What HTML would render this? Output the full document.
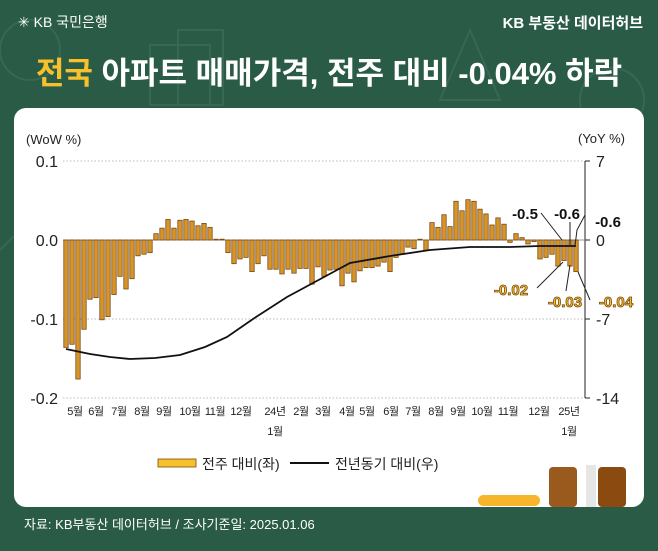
<!DOCTYPE html>
<html><head><meta charset="utf-8"><style>
body{margin:0;width:658px;height:546px;background:#295b47;overflow:hidden;font-family:"Liberation Sans","Noto Sans CJK KR",sans-serif;}
</style></head><body>
<svg width="658" height="546" xmlns="http://www.w3.org/2000/svg" font-family="Liberation Sans, Noto Sans CJK KR, sans-serif">
<rect width="658" height="546" fill="#295b47"/>
<g stroke="#3d6e5a" fill="none" stroke-width="2" opacity="0.7">
<rect x="150" y="45" width="60" height="60"/><rect x="178" y="30" width="45" height="75"/>
<circle cx="30" cy="50" r="30"/><path d="M470 30 L500 100 L440 100 Z"/>
<circle cx="612" cy="100" r="32"/><path d="M0 250 L20 230 L40 250"/>
</g>
<text x="18" y="27" font-size="14" fill="#fff">✳ KB 국민은행</text>
<text x="643" y="28" font-size="15" fill="#fff" font-weight="bold" text-anchor="end">KB 부동산 데이터허브</text>
<text x="329" y="84" font-size="31" font-weight="bold" fill="#fff" text-anchor="middle"><tspan fill="#f6c12a">전국</tspan> 아파트 매매가격, 전주 대비 -0.04% 하락</text>
<rect x="14" y="108" width="630" height="399" rx="12" fill="#fff"/>
<g stroke="#bbb" stroke-dasharray="1.5,2" stroke-width="1">
<line x1="63" y1="161" x2="584" y2="161"/><line x1="63" y1="319" x2="584" y2="319"/><line x1="63" y1="398" x2="584" y2="398"/>
</g>
<line x1="63" y1="240" x2="584" y2="240" stroke="#999" stroke-width="1"/>
<g font-size="16" fill="#222">
<text x="58" y="167" text-anchor="end">0.1</text><text x="58" y="246" text-anchor="end">0.0</text>
<text x="58" y="325" text-anchor="end">-0.1</text><text x="58" y="404" text-anchor="end">-0.2</text>
<text x="596" y="167">7</text><text x="596" y="246">0</text><text x="596" y="325">-7</text><text x="596" y="404">-14</text>
</g>
<text x="26" y="144" font-size="13" fill="#222">(WoW %)</text>
<text x="578" y="143" font-size="13" fill="#222">(YoY %)</text>
<g stroke="#222" stroke-width="1"><line x1="585" y1="161" x2="585" y2="398"/>
<line x1="585" y1="161" x2="590" y2="161"/><line x1="585" y1="240" x2="590" y2="240"/><line x1="585" y1="319" x2="590" y2="319"/><line x1="585" y1="398" x2="590" y2="398"/></g>
<g id="bars" fill="#d6952c" stroke="#7a4a10" stroke-width="0.8"></g>
<polyline fill="none" stroke="#111" stroke-width="1.8" points="66,349 90,354 110,357 130,359 155,358 180,355 205,347 227,337 253,319 287,297 313,283 337,270 350,263 390,256 430,250 470,247 510,247 540,246 576,246"/>
<g font-size="11" fill="#222" text-anchor="middle" letter-spacing="-0.4">
<text x="75" y="415">5월</text><text x="96" y="415">6월</text><text x="119" y="415">7월</text><text x="142" y="415">8월</text><text x="164" y="415">9월</text><text x="190" y="415">10월</text><text x="215" y="415">11월</text><text x="241" y="415">12월</text><text x="275" y="415">24년</text><text x="275" y="435">1월</text><text x="301" y="415">2월</text><text x="323" y="415">3월</text><text x="347" y="415">4월</text><text x="367" y="415">5월</text><text x="391" y="415">6월</text><text x="413" y="415">7월</text><text x="436" y="415">8월</text><text x="458" y="415">9월</text><text x="482" y="415">10월</text><text x="508" y="415">11월</text><text x="539" y="415">12월</text><text x="569" y="415">25년</text><text x="569" y="435">1월</text>
</g>
<g stroke="#222" stroke-width="1" fill="none"><polyline points="541,213 562,240"/><line x1="570" y1="222" x2="570" y2="246"/><polyline points="585,215 577,230 575,246"/>
<line x1="537" y1="288" x2="563" y2="262"/><line x1="566" y1="291" x2="570" y2="265"/><line x1="590" y1="300" x2="578" y2="272"/></g>
<g font-size="15" font-weight="bold" fill="#111" text-anchor="middle"><text x="525" y="219">-0.5</text><text x="567" y="219">-0.6</text><text x="608" y="227">-0.6</text></g>
<g font-size="15" font-weight="bold" fill="#f6c12a" stroke="#7a4a10" stroke-width="0.8" text-anchor="middle"><text x="511" y="295">-0.02</text><text x="565" y="307">-0.03</text><text x="616" y="307">-0.04</text></g>
<rect x="158" y="459" width="38" height="8" fill="#f6c12a" stroke="#7a4a10" stroke-width="0.8"/>
<text x="202" y="469" font-size="14" fill="#222">전주 대비(좌)</text>
<line x1="290" y1="463" x2="329" y2="463" stroke="#111" stroke-width="2"/>
<text x="335" y="469" font-size="14" fill="#222">전년동기 대비(우)</text>
<rect x="478" y="495" width="62" height="11" rx="5.5" fill="#f6b52a"/>
<rect x="549" y="467" width="28" height="40" rx="4" fill="#9a5a1e"/>
<rect x="586" y="465" width="10" height="42" fill="#e6e6e6"/>
<rect x="598" y="467" width="28" height="40" rx="4" fill="#8a4a10"/>
<text x="24" y="529" font-size="13" fill="#fff">자료: KB부동산 데이터허브 / 조사기준일: 2025.01.06</text>
</svg>
<script>
var v=[-0.136,-0.132,-0.176,-0.113,-0.075,-0.073,-0.101,-0.097,-0.069,-0.046,-0.062,-0.049,-0.020,-0.018,-0.016,0.008,0.015,0.026,0.015,0.025,0.026,0.024,0.018,0.021,0.016,0.001,0.001,-0.016,-0.030,-0.024,-0.022,-0.040,-0.030,-0.020,-0.037,-0.037,-0.043,-0.037,-0.042,-0.036,-0.036,-0.056,-0.034,-0.046,-0.038,-0.037,-0.058,-0.042,-0.053,-0.039,-0.035,-0.035,-0.033,-0.028,-0.040,-0.022,-0.018,-0.009,-0.011,0.001,-0.013,0.022,0.016,0.032,0.017,0.049,0.037,0.051,0.049,0.039,0.033,0.019,0.028,0.020,-0.003,0.008,0.003,-0.005,-0.002,-0.024,-0.022,-0.018,-0.033,-0.026,-0.033,-0.040];
var g=document.getElementById('bars'),s='';
for(var i=0;i<v.length;i++){var x=66+i*6-2.2,h=Math.abs(v[i])*790,y=v[i]>0?240-h:240;s+='<rect x="'+x+'" y="'+y+'" width="4.4" height="'+Math.max(h,0.5)+'"/>';}
g.innerHTML=s;
</script>
</body></html>
